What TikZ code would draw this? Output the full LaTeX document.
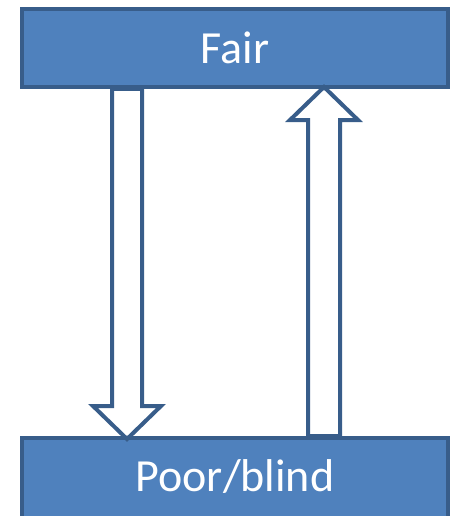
\documentclass[tikz,border=0pt]{standalone}
\usepackage{fontspec}
\setmainfont{Carlito}
\usetikzlibrary{calc}
\definecolor{boxfill}{HTML}{4F81BD}
\definecolor{boxline}{HTML}{385D8A}
\tikzset{
  statebox/.style={draw=boxline, fill=boxfill, line width=4pt, text=white,
    minimum width=426.5pt, minimum height=78pt, inner sep=0pt,
    font=\fontsize{46}{50}\selectfont},
  blockarrow/.style={draw=boxline, fill=white, line width=4pt, line join=miter}
}
\begin{document}
\begin{tikzpicture}[x=1pt,y=1pt]
      \useasboundingbox (0,0) rectangle (451,-516);
      \node [statebox] (fair) at (235,-48) {Fair};
      \node [statebox, minimum height=80pt] (poor) at (235,-478) {};
      \node [text=white, font=\fontsize{46}{50}\selectfont] (poortext) at (235,-477) {Poor/blind};
      \coordinate (dn) at (127,0);
      \coordinate (up) at (324,0);
      % fair -> poor
      \draw [blockarrow] let \p1=(fair.south -| dn), \p2=(poor.north -| dn) in
        (\x1-15pt,\y1) -- (\x1-15pt,\y2+30pt) -- (\x1-34pt,\y2+30pt) -- (\x2,\y2-3pt)
        -- (\x1+34pt,\y2+30pt) -- (\x1+15pt,\y2+30pt) -- (\x1+15pt,\y1) -- cycle;
      % poor -> fair
      \draw [blockarrow] let \p1=(poor.north -| up), \p2=(fair.south -| up) in
        (\x1-16pt,\y1) -- (\x1-16pt,\y2-31pt) -- (\x1-34pt,\y2-31pt) -- (\x2,\y2+2pt)
        -- (\x1+34pt,\y2-31pt) -- (\x1+16pt,\y2-31pt) -- (\x1+16pt,\y1) -- cycle;
\end{tikzpicture}
\end{document}
